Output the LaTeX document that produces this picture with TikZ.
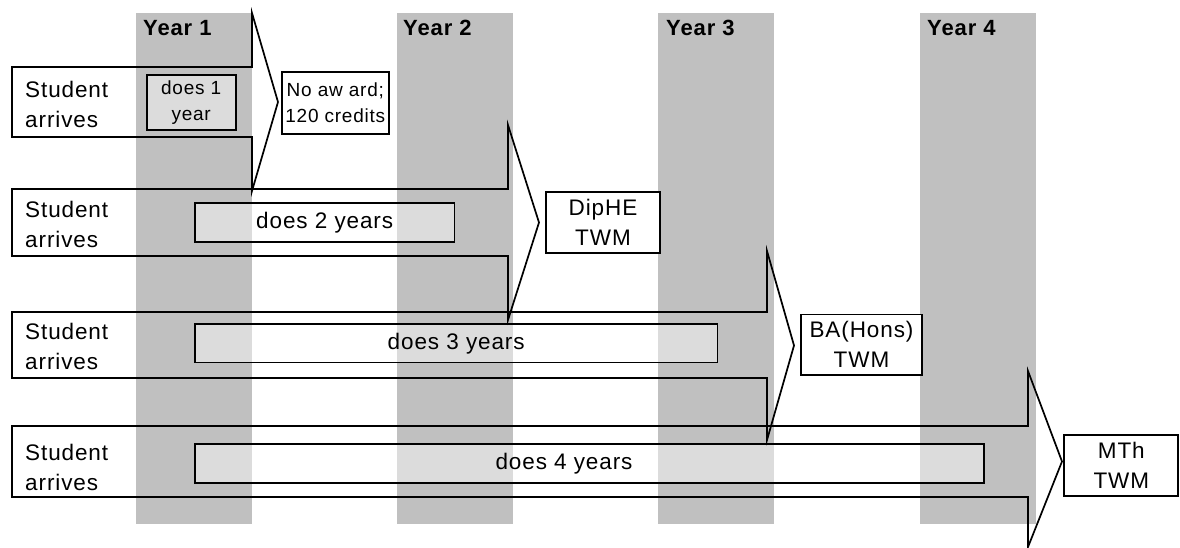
\documentclass[tikz,border=0pt]{standalone}
\usepackage{fontspec}
\setmainfont{Liberation Sans}[LetterSpace=4]
\definecolor{colgray}{RGB}{192,192,192}
\tikzset{
  col/.style={fill=colgray, draw=none, inner sep=0, outer sep=0, anchor=north west, minimum width=116pt, minimum height=511pt},
  yearlbl/.style={anchor=base west, inner sep=0, font=\bfseries\fontsize{22}{26}\selectfont},
  blockarr/.style={draw=black, line width=1.7pt, line join=miter},
  student/.style={anchor=west, align=left, inner sep=0, font=\fontsize{22.5}{30}\selectfont},
  dobox/.style={draw=black, line width=1.7pt, fill=white, fill opacity=0.45, text opacity=1, inner sep=0, align=center},
  award/.style={draw=black, line width=1.7pt, fill=white, inner sep=0, align=center, font=\fontsize{22.5}{30}\selectfont},
  bigtxt/.style={font=\fontsize{22.5}{30}\selectfont},
  smalltxt/.style={font=\fontsize{19}{26}\selectfont}
}
\begin{document}
\begin{tikzpicture}[x=1pt,y=-1pt]
\useasboundingbox (0,0) rectangle (1180,548);
% year columns
\node[col] (c1) at (136,13) {};
\node[col] (c2) at (397,13) {};
\node[col] (c3) at (658,13) {};
\node[col] (c4) at (920,13) {};
\node[yearlbl] (y1) at (143,36) {Year 1};
\node[yearlbl] (y2) at (403,36) {Year 2};
\node[yearlbl] (y3) at (666,36) {Year 3};
\node[yearlbl] (y4) at (927,36) {Year 4};
% block arrows
\draw[blockarr] (12,67) -- (252,67) -- (252,13) -- (278,102) -- (252,191) -- (252,137) -- (12,137) -- cycle;
\draw[blockarr] (12,189) -- (508,189) -- (508,125) -- (539,222.5) -- (508,320) -- (508,256) -- (12,256) -- cycle;
\draw[blockarr] (12,312) -- (767,312) -- (767,251) -- (794,345.5) -- (767,440) -- (767,378) -- (12,378) -- cycle;
\draw[blockarr] (12,426) -- (1028,426) -- (1028,371) -- (1062,461.5) -- (1028,547) -- (1028,497) -- (12,497) -- cycle;
% student labels
\node[student] (s1) at (25,104) {Student\\arrives};
\node[student] (s2) at (25,224.7) {Student\\arrives};
\node[student] (s3) at (25,346) {Student\\arrives};
\node[student] (s4) at (25,467.4) {Student\\arrives};
% duration boxes
\node[dobox, smalltxt, minimum width=89pt, minimum height=55pt] (d1) at (191.2,102.5) {does 1\\year};
\node[dobox, bigtxt, minimum width=259.3pt, minimum height=39pt] (d2) at (324.7,222.8) {does 2 years};
\node[dobox, bigtxt, minimum width=522.3pt, minimum height=38.3pt] (d3) at (456.2,343.2) {does 3 years};
\node[dobox, minimum width=789pt, minimum height=38.7pt] (d4) at (589.5,463.3) {};
\node[bigtxt, inner sep=0] (t4) at (564,463.3) {does 4 years};
% awards
\node[award, smalltxt, minimum width=107.3pt, minimum height=62.3pt] (a1) at (335.3,102.9) {No aw ard;\\120 credits};
\node[award, minimum width=114pt, minimum height=61pt] (a2) at (603,222.8) {DipHE\\TWM};
\node[award, minimum width=120.4pt, minimum height=60.7pt] (a3) at (861.5,344.7) {BA(Hons)\\TWM};
\node[award, minimum width=114pt, minimum height=60.7pt] (a4) at (1121.3,465.3) {MTh\\TWM};
\end{tikzpicture}
\end{document}
